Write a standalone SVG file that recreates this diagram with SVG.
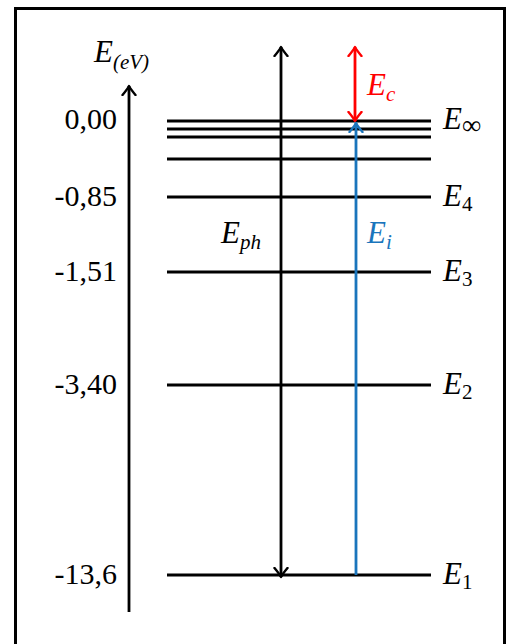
<svg xmlns="http://www.w3.org/2000/svg" width="509" height="644" viewBox="0 0 509 644">
<style>
.lvl{stroke:#000;stroke-width:2.8;fill:none}
.num{font-family:"Liberation Serif",serif;font-size:30px;fill:#000;text-anchor:end}
.lab{font-family:"Liberation Serif",serif;font-style:italic;font-size:31px;fill:#000}
.sub{font-size:21px}
.inf{font-size:27px;font-style:normal}
</style>
<defs>
<marker id="ahK" markerUnits="userSpaceOnUse" viewBox="-10 -8 12 16" markerWidth="12" markerHeight="16" refX="0" refY="0" orient="auto-start-reverse">
<path d="M -9 -6.5 Q -3 -1.5 0 0 Q -3 1.5 -9 6.5" fill="none" stroke="#000" stroke-width="2.4" stroke-linecap="round" stroke-linejoin="round"/>
</marker>
<marker id="ahR" markerUnits="userSpaceOnUse" viewBox="-10 -8 12 16" markerWidth="12" markerHeight="16" refX="0" refY="0" orient="auto-start-reverse">
<path d="M -9 -6.5 Q -3 -1.5 0 0 Q -3 1.5 -9 6.5" fill="none" stroke="#ff0000" stroke-width="2.4" stroke-linecap="round" stroke-linejoin="round"/>
</marker>
<marker id="ahB" markerUnits="userSpaceOnUse" viewBox="-10 -8 12 16" markerWidth="12" markerHeight="16" refX="0" refY="0" orient="auto-start-reverse">
<path d="M -9 -6.5 Q -3 -1.5 0 0 Q -3 1.5 -9 6.5" fill="none" stroke="#1a75bc" stroke-width="2.4" stroke-linecap="round" stroke-linejoin="round"/>
</marker>
</defs>
<rect x="15.5" y="8.5" width="489" height="700" fill="#fff" stroke="#000" stroke-width="3"/>

<g id="axis">
<line x1="129" y1="612" x2="129" y2="86" stroke="#000" stroke-width="2.8" marker-end="url(#ahK)"/>
<text class="lab" x="94" y="62">E<tspan class="sub" dy="7">(eV)</tspan></text>
</g>

<g id="level-inf">
<line class="lvl" x1="167" y1="121" x2="431" y2="121"/>
<line class="lvl" x1="167" y1="129" x2="431" y2="129"/>
<line class="lvl" x1="167" y1="137" x2="431" y2="137"/>
<line class="lvl" x1="167" y1="159" x2="431" y2="159"/>
<text class="num" x="117" y="129">0,00</text>
<text class="lab" x="443" y="129">E<tspan class="inf" dy="5">∞</tspan></text>
</g>
<g id="level-4">
<line class="lvl" x1="167" y1="197" x2="431" y2="197"/>
<text class="num" x="117" y="206">-0,85</text>
<text class="lab" x="443" y="206">E<tspan class="sub" font-style="normal" dy="5">4</tspan></text>
</g>
<g id="level-3">
<line class="lvl" x1="167" y1="272" x2="431" y2="272"/>
<text class="num" x="117" y="281">-1,51</text>
<text class="lab" x="443" y="281">E<tspan class="sub" font-style="normal" dy="5">3</tspan></text>
</g>
<g id="level-2">
<line class="lvl" x1="167" y1="385" x2="431" y2="385"/>
<text class="num" x="117" y="394">-3,40</text>
<text class="lab" x="443" y="394">E<tspan class="sub" font-style="normal" dy="5">2</tspan></text>
</g>
<g id="level-1">
<line class="lvl" x1="167" y1="575" x2="431" y2="575"/>
<text class="num" x="117" y="584">-13,6</text>
<text class="lab" x="443" y="584">E<tspan class="sub" font-style="normal" dy="5">1</tspan></text>
</g>

<g id="connectors">
<line x1="281" y1="577" x2="281" y2="47" stroke="#000" stroke-width="2.8" marker-start="url(#ahK)" marker-end="url(#ahK)"/>
<line x1="355" y1="121" x2="355" y2="47" stroke="#ff0000" stroke-width="2.8" marker-start="url(#ahR)" marker-end="url(#ahR)"/>
<line x1="356" y1="575" x2="356" y2="123" stroke="#1a75bc" stroke-width="2.8" marker-end="url(#ahB)"/>
</g>

<g id="labels">
<text class="lab" x="221" y="243">E<tspan class="sub" dy="6">ph</tspan></text>
<text class="lab" x="367" y="243" style="fill:#1a75bc">E<tspan class="sub" dy="6">i</tspan></text>
<text class="lab" x="367" y="95" style="fill:#ff0000">E<tspan class="sub" dy="6">c</tspan></text>
</g>
</svg>
